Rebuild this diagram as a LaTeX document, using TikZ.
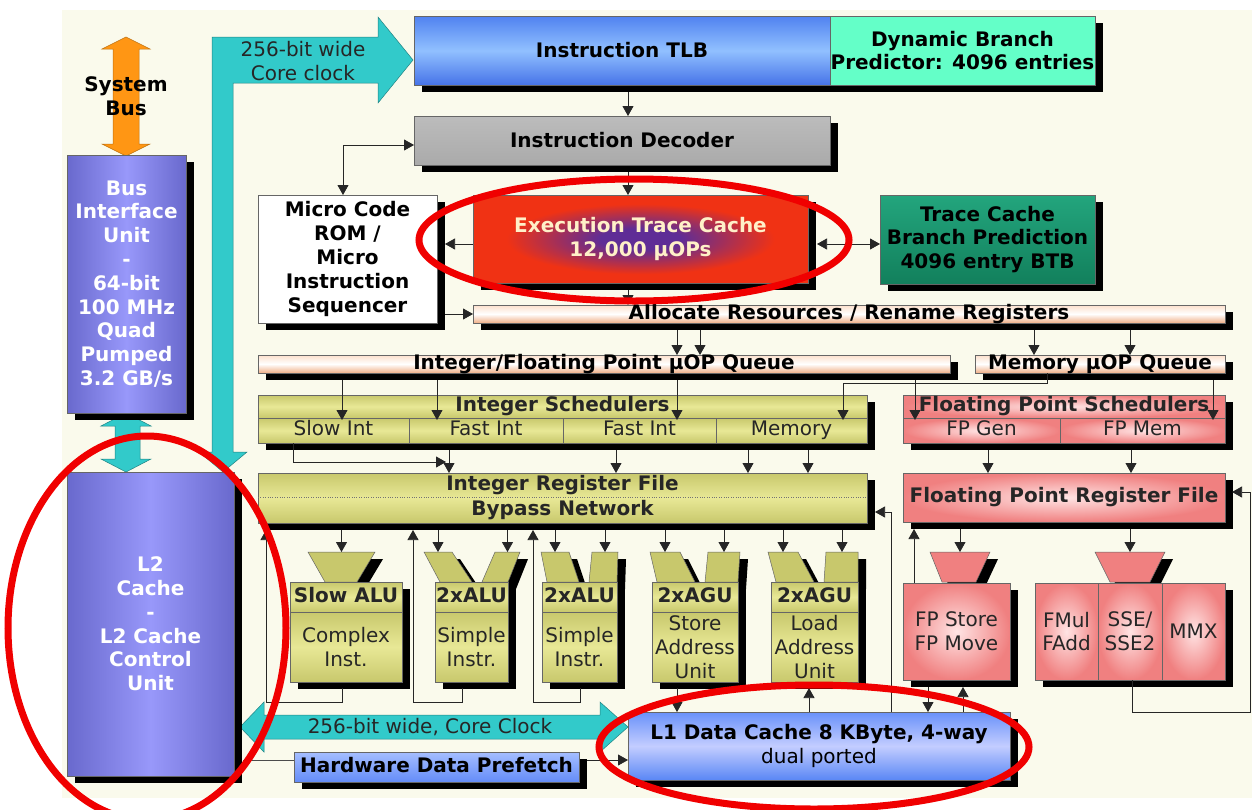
\documentclass[tikz,border=0pt]{standalone}
\usepackage{fontspec}
\setmainfont{DejaVu Sans}
\usetikzlibrary{arrows.meta,shadows}
\definecolor{cream}{RGB}{250,250,236}
\definecolor{tealA}{RGB}{50,202,202}
\definecolor{orangeA}{RGB}{255,150,20}
\definecolor{blueT}{RGB}{80,130,240}
\definecolor{blueL}{RGB}{145,192,255}
\definecolor{blueB}{RGB}{70,115,232}
\definecolor{l1T}{RGB}{105,145,250}
\definecolor{l1L}{RGB}{195,205,255}
\definecolor{l1B}{RGB}{90,135,245}
\definecolor{hdpT}{RGB}{165,190,255}
\definecolor{hdpB}{RGB}{100,140,248}
\definecolor{aqua}{RGB}{100,255,200}
\definecolor{greyT}{RGB}{188,188,188}
\definecolor{greyB}{RGB}{170,170,170}
\definecolor{redE}{RGB}{240,50,20}
\definecolor{purpE}{RGB}{95,45,150}
\definecolor{greenT}{RGB}{35,165,125}
\definecolor{greenD}{RGB}{18,128,92}
\definecolor{peachT}{RGB}{252,224,204}
\definecolor{peachB}{RGB}{240,175,135}
\definecolor{oliveD}{RGB}{200,200,108}
\definecolor{oliveL}{RGB}{232,232,150}
\definecolor{pinkD}{RGB}{240,128,128}
\definecolor{pinkL}{RGB}{255,228,228}
\definecolor{purD}{RGB}{105,105,205}
\definecolor{purL}{RGB}{152,152,250}
\definecolor{etctext}{RGB}{255,240,200}
\definecolor{ellred}{RGB}{240,0,0}
\pgfdeclareradialshading{etcshade}{\pgfpoint{0bp}{0bp}}{color(0bp)=(purpE); color(6bp)=(purpE); color(20bp)=(redE); color(50bp)=(redE)}
\pgfdeclareradialshading{pinkshade}{\pgfpoint{0bp}{0bp}}{color(0bp)=(pinkL); color(25bp)=(pinkD); color(50bp)=(pinkD)}
\newcommand\bx[7]{\node[#6,minimum width={(#4)-(#2)},minimum height={(#5)-(#3)}] (#1) at ({((#2)+(#4))/2},{((#3)+(#5))/2}) {#7};}
\newcommand\fun[6]{%
  \fill[black] ({#2+8},559) -- ({#3+8},559) -- ({#4+8},589) -- ({#5+8},589) -- cycle;
  \filldraw[fill=#1,draw=black!60,line width=0.5pt] (#2,552) -- (#3,552) -- (#4,582) -- (#5,582) -- cycle;
  \coordinate (#6) at ({(#2+#3)/2},552);}
\newcommand\unit[5]{%
  \bx{#1}{#2}{582}{#3}{682}{base,shd,olivebox}{}
  \bx{#1h}{#2}{582}{#3}{612}{base,olivebox,fb,one}{#4}
  \bx{#1b}{#2}{612}{#3}{682}{base,olivebox,fs}{#5}}
\tikzset{
  fs/.style={font=\fontsize{20}{23.8}\selectfont},
  fb/.style={font=\fontsize{20}{23.8}\selectfont\bfseries},
  base/.style={inner sep=0pt,outer sep=0pt,align=center,draw=black!60,line width=0.5pt},
  shd/.style={drop shadow={shadow xshift=8pt,shadow yshift=-7pt,fill=black,opacity=1}},
  one/.style={text height=14pt,text depth=4pt},
  bluebox/.style={top color=blueT,bottom color=blueB,middle color=blueL},
  l1box/.style={top color=l1T,bottom color=l1B,middle color=l1L},
  hdpbox/.style={top color=hdpT,bottom color=hdpB},
  greybox/.style={top color=greyT,bottom color=greyB},
  peachbox/.style={top color=peachT,bottom color=peachB,middle color=white},
  olivebox/.style={top color=oliveD,bottom color=oliveD,middle color=oliveL,text=black!85},
  pinkbox/.style={shading=pinkshade,text=black!85},
  purbox/.style={left color=purD,right color=purD,middle color=purL,text=white},
  arr/.style={draw=black!85,line width=0.75pt,-{Triangle[length=10pt,width=11pt]}},
  arrb/.style={draw=black!85,line width=0.75pt,{Triangle[length=10pt,width=11pt]}-{Triangle[length=10pt,width=11pt]}},
  plain/.style={draw=black!70,line width=0.75pt},
  ell/.style={draw=ellred,line width=7pt},
  bigarrow/.style={fill=tealA,draw=tealA!65!black,line width=0.5pt},
}
\begin{document}
\begin{tikzpicture}[x=1pt,y=-1pt]
\useasboundingbox (0,0) rectangle (1255,809);
\fill[cream] (62,10) rectangle (1252,798);

% system bus
\filldraw[fill=orangeA,draw=orangeA!75!black,line width=0.5pt] (126,37) -- (150,49) -- (139,49) -- (139,144) -- (150,144) -- (126,156) -- (102,144) -- (113,144) -- (113,49) -- (102,49) -- cycle;
\node[fb,align=center,inner sep=0pt] (sysbus) at (126,96) {System\\Bus};
% BIU - L2 arrow
\filldraw[bigarrow] (126,413) -- (151,426) -- (140,426) -- (140,459) -- (151,459) -- (126,472) -- (101,459) -- (115,459) -- (115,426) -- (101,426) -- cycle;
% big teal arrow to TLB
\filldraw[bigarrow] (212,452) -- (212,37) -- (378,37) -- (378,17) -- (413,60) -- (378,103) -- (378,83) -- (233,83) -- (233,452) -- (247,452) -- (223,472) -- (199,452) -- cycle;
\node[fs,align=center,text=black!85,inner sep=0pt] (bw1) at (303,61) {256-bit wide\\Core clock};
% bottom teal arrow
\filldraw[bigarrow] (240,727) -- (264,702) -- (264,715) -- (600,715) -- (600,702) -- (628,727) -- (600,752) -- (600,739) -- (264,739) -- (264,752) -- cycle;
\node[fs,text=black!85,inner sep=0pt] (bw2) at (430,727) {256-bit wide, Core Clock};

% left column
\bx{biu}{67}{155}{186}{413}{base,shd,purbox,fb}{Bus\\Interface\\Unit\\-\\64-bit\\100 MHz\\Quad\\Pumped\\3.2 GB/s}
\bx{l2}{67}{472}{234}{776}{base,shd,purbox,fb}{L2\\Cache\\-\\L2 Cache\\Control\\Unit}

% front end
\bx{tlb}{414}{16}{830}{85}{base,shd,bluebox,fb}{Instruction TLB}
\bx{dbp}{830}{16}{1095}{85}{base,shd,fill=aqua,fb}{Dynamic Branch\\Predictor: 4096 entries}
\bx{dec}{414}{116}{830}{165}{base,shd,greybox,fb}{Instruction Decoder}
\bx{mc}{258}{195}{437}{323}{base,shd,fill=white,fb}{Micro Code\\ROM /\\Micro\\Instruction\\Sequencer}
\bx{etc}{473}{195}{808}{283}{base,shd,shading=etcshade,fb,text=etctext}{Execution Trace Cache\\12,000 µOPs}
\bx{tcbp}{880}{195}{1095}{284}{base,shd,top color=greenT,bottom color=greenD,fb}{Trace Cache\\Branch Prediction\\4096 entry BTB}
\bx{alloc}{473}{305}{1225}{323}{base,shd,peachbox,fb,one}{Allocate Resources / Rename Registers}
\bx{iq}{258}{355}{950}{373}{base,shd,peachbox,fb,one}{Integer/Floating Point µOP Queue}
\bx{mq}{975}{355}{1225}{373}{base,shd,peachbox,fb,one}{Memory µOP Queue}

% schedulers
\bx{is}{258}{395}{867}{443}{base,shd,olivebox}{}
\bx{ish}{258}{395}{867}{418}{base,olivebox,fb,one}{Integer Schedulers}
\bx{is1}{258}{418}{409}{443}{base,olivebox,fs,one}{Slow Int}
\bx{is2}{409}{418}{563}{443}{base,olivebox,fs,one}{Fast Int}
\bx{is3}{563}{418}{716}{443}{base,olivebox,fs,one}{Fast Int}
\bx{is4}{716}{418}{867}{443}{base,olivebox,fs,one}{Memory}
\bx{fps}{903}{395}{1225}{443}{base,shd,pinkbox}{}
\bx{fpsh}{903}{395}{1225}{418}{base,pinkbox,fb,one}{Floating Point Schedulers}
\bx{fps1}{903}{418}{1060}{443}{base,pinkbox,fs,one}{FP Gen}
\bx{fps2}{1060}{418}{1225}{443}{base,pinkbox,fs,one}{FP Mem}

% register files
\bx{irf}{258}{473}{867}{523}{base,shd,olivebox,font=\fontsize{20}{25}\selectfont\bfseries}{Integer Register File\\Bypass Network}
\draw[dotted,black!55] (irf.west |- 0,497) -- (irf.east |- 0,497);
\bx{fprf}{903}{473}{1225}{522}{base,shd,pinkbox,fb}{Floating Point Register File}

% funnels
\fun{oliveD}{308}{375}{357}{325}{f0}
\fun{oliveD}{424}{452}{472}{440}{f1a}
\fun{oliveD}{495}{520}{508}{482}{f1b}
\fun{oliveD}{541}{569}{579}{547}{f2a}
\fun{oliveD}{592}{618}{617}{589}{f2b}
\fun{oliveD}{650}{680}{695}{657}{f3a}
\fun{oliveD}{708}{740}{738}{705}{f3b}
\fun{oliveD}{768}{798}{814}{776}{f4a}
\fun{oliveD}{826}{858}{858}{824}{f4b}
\fun{pinkD}{930}{990}{976}{942}{f5}
\fun{pinkD}{1095}{1165}{1150}{1110}{f6}

% execution units
\unit{alu0}{290}{402}{Slow ALU}{Complex\\Inst.}
\unit{alu1}{435}{508}{2xALU}{Simple\\Instr.}
\unit{alu2}{542}{617}{2xALU}{Simple\\Instr.}
\unit{agu1}{652}{738}{2xAGU}{Store\\Address\\Unit}
\unit{agu2}{771}{858}{2xAGU}{Load\\Address\\Unit}
\bx{fpst}{903}{583}{1010}{680}{base,shd,pinkbox,fs}{FP Store\\FP Move}
\bx{fpu}{1035}{583}{1225}{680}{base,shd,pinkbox}{}
\bx{fmul}{1035}{583}{1098}{680}{base,pinkbox,fs}{FMul\\FAdd}
\bx{sse}{1098}{583}{1162}{680}{base,pinkbox,fs}{SSE/\\SSE2}
\bx{mmx}{1162}{583}{1225}{680}{base,pinkbox,fs}{MMX}

% caches
\bx{l1}{628}{712}{1010}{780}{base,shd,l1box,fs}{\textbf{L1 Data Cache 8 KByte, 4-way}\\dual ported}
\bx{hdp}{294}{752}{579}{782}{base,shd,hdpbox,fb,one}{Hardware Data Prefetch}

% connectors
\draw[arr,shorten <=7pt] (628,0 |- tlb.south) -- (628,0 |- dec.north);
\draw[arr,shorten <=7pt] (628,0 |- dec.south) -- (628,0 |- etc.north);
\draw[arrb] (dec.west |- 0,145) -| (343,0 |- mc.north);
\draw[arr,shorten >=8pt] (etc.west |- 0,244) -- (mc.east |- 0,244);
\draw[arrb,shorten <=9pt] (etc.east |- 0,244) -- (tcbp.west |- 0,244);
\draw[arr,shorten <=7pt] (628,0 |- etc.south) -- (628,0 |- alloc.north);
\draw[arr,shorten <=8pt] (mc.east |- 0,314) -- (alloc.west |- 0,314);
\foreach \x in {677,700} \draw[arr,shorten <=7pt] (\x,0 |- alloc.south) -- (\x,0 |- iq.north);
\foreach \x in {1034,1130} \draw[arr,shorten <=7pt] (\x,0 |- alloc.south) -- (\x,0 |- mq.north);
\foreach \x in {342,437,677} \draw[arr,shorten <=7pt,shorten >=-2pt] (\x,0 |- iq.south) -- (\x,0 |- ish.south);
\draw[arr,shorten <=7pt,shorten >=-2pt] (915,0 |- iq.south) -- (915,0 |- fpsh.south);
\draw[arr,shorten >=-2pt] (1047,0 |- mq.south) -- (1047,383) -| (843,0 |- ish.south);
\draw[arr,shorten <=7pt,shorten >=-2pt] (1213,0 |- mq.south) -- (1213,0 |- fpsh.south);
\coordinate (mrg) at (446,462);
\draw[arr] (293,0 |- is.south) |- (mrg);
\foreach \x in {449,616,748,808} \draw[arr,shorten <=7pt] (\x,0 |- is.south) -- (\x,0 |- irf.north);
\foreach \x in {988,1131} \draw[arr,shorten <=7pt] (\x,0 |- fps.south) -- (\x,0 |- fprf.north);
\foreach \c in {f0,f1a,f1b,f2a,f2b,f3a,f3b,f4a,f4b} \draw[arr,shorten <=7pt] (\c |- irf.south) -- (\c);
\foreach \c in {f5,f6} \draw[arr,shorten <=7pt] (\c |- fprf.south) -- (\c);
\draw[arr,shorten <=6pt,shorten >=7pt] (342,0 |- alu0.south) |- (266,702) -- (266,0 |- irf.south);
\draw[arr,shorten <=6pt,shorten >=7pt] (462,0 |- alu1.south) |- (413,702) -- (413,0 |- irf.south);
\draw[arr,shorten <=6pt,shorten >=7pt] (580,0 |- alu2.south) |- (533,702) -- (533,0 |- irf.south);
\draw[arr,shorten <=6pt] (677,0 |- agu1.south) -- (677,0 |- l1.north);
\draw[arr,shorten >=6pt] (809,0 |- l1.north) -- (809,0 |- agu2.south);
\draw[arr,shorten >=8pt] (891,0 |- l1.north) |- (irf.east |- 0,512);
\draw[arr,shorten >=7pt] (914,0 |- fpst.north) -- (914,0 |- fprf.south);
\draw[arr,shorten <=7pt] (928,0 |- fpst.south) -- (928,0 |- l1.north);
\draw[arr,shorten >=7pt] (963,0 |- l1.north) -- (963,0 |- fpst.south);
\draw[arr,shorten >=7pt] (1132,0 |- sse.south) |- (1250,712) |- (fprf.east |- 0,492);
\draw[arr,shorten <=8pt] (hdp.east |- 0,760) -- (l1.west |- 0,760);
\draw[plain,shorten <=9pt] (l2.east |- 0,760) -- (hdp.west |- 0,760);

% red highlight ellipses
\draw[ell] (634,240) ellipse [x radius=215, y radius=61];
\draw[ell] (147,628) ellipse [x radius=139, y radius=192];
\draw[ell] (814,747) ellipse [x radius=215, y radius=62];
\end{tikzpicture}
\end{document}
